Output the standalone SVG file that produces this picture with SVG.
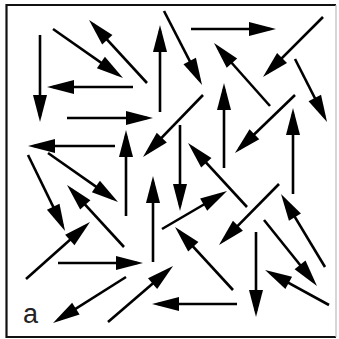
<svg xmlns="http://www.w3.org/2000/svg" width="339" height="339" viewBox="0 0 339 339">
<style>
.a{stroke:#000;stroke-width:2.6;fill:none;marker-end:url(#ah)}
.fr{stroke:#111;stroke-width:2.2;fill:none}
.lbl{font-family:"Liberation Sans",Arial,sans-serif;font-size:27px;fill:#222}
</style>
<defs>
<marker id="ah" markerUnits="userSpaceOnUse" markerWidth="27" markerHeight="14" refX="21" refY="7" orient="auto" overflow="visible">
<path d="M0,0 L27,7 L0,14 Z" fill="#000"/>
</marker>
</defs>
<rect width="339" height="339" fill="#fff"/>
<path class="fr" d="M336,5 H6.5 V337 H336"/>
<path d="M336,5 V337" stroke="#bbb" stroke-width="1.2"/>
<g id="arrows">
<path class="a" d="M40,35 L40,116"/>
<path class="a" d="M53,29 L118.1,74.6"/>
<path class="a" d="M147,83 L93.1,24.4"/>
<path class="a" d="M133,87 L53,87"/>
<path class="a" d="M160,112 L160,31"/>
<path class="a" d="M67,118 L147,118"/>
<path class="a" d="M115,146 L34,146"/>
<path class="a" d="M126,216 L126,136"/>
<path class="a" d="M203,95 L147.2,152.7"/>
<path class="a" d="M164,11 L199.3,79.7"/>
<path class="a" d="M191,29 L270,29"/>
<path class="a" d="M323,17 L267.2,72.8"/>
<path class="a" d="M270,106 L218,47.5"/>
<path class="a" d="M295,59 L324.3,116.7"/>
<path class="a" d="M224,168 L224,89"/>
<path class="a" d="M295,95 L239.3,148.8"/>
<path class="a" d="M293,194 L293,114"/>
<path class="a" d="M180,125 L180,205"/>
<path class="a" d="M247,207 L192.1,147.4"/>
<path class="a" d="M28,155 L62.4,225.6"/>
<path class="a" d="M48,153 L113.1,198.6"/>
<path class="a" d="M124,247 L71.1,189.4"/>
<path class="a" d="M26,279 L85.5,226"/>
<path class="a" d="M153,262 L153,182"/>
<path class="a" d="M58,263 L137,263"/>
<path class="a" d="M126,277 L58.1,319.8"/>
<path class="a" d="M108,322 L168.5,269.9"/>
<path class="a" d="M237,304 L158,304"/>
<path class="a" d="M162,229 L221.8,194"/>
<path class="a" d="M279,184 L223.2,240.7"/>
<path class="a" d="M325,267 L284.1,199.1"/>
<path class="a" d="M233,290 L179.1,231.4"/>
<path class="a" d="M264,220 L313.2,281.3"/>
<path class="a" d="M256,232 L256,311"/>
<path class="a" d="M329,305 L270.3,272.9"/>
</g>
<text class="lbl" x="23" y="323">a</text>
</svg>
